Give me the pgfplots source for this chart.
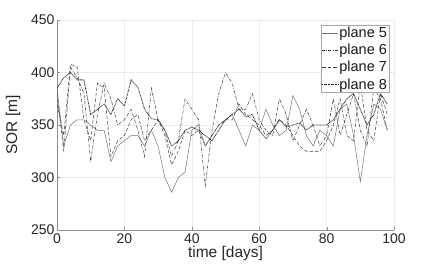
\documentclass[border=0pt]{standalone}
\usepackage{pgfplots}
\pgfplotsset{compat=1.18}
\usepackage{fontspec}
\setmainfont{Liberation Sans}
\begin{document}
\begin{tikzpicture}
\useasboundingbox (-57pt,-43pt) rectangle (379pt,230pt);
\begin{axis}[
  scale only axis, width=337pt, height=210pt,
  xmin=0, xmax=100, ymin=250, ymax=450,
  xtick={0,20,...,100}, ytick={250,300,...,450},
  grid=major, major grid style={draw=black!8, line width=0.5pt},
  axis x line*=bottom, axis y line*=left,
  axis line style={draw=black!45, line width=0.6pt},
  tick style={draw=black!45}, tick align=inside, major tick length=3pt,
  ticklabel style={font=\fontsize{14}{15}\selectfont, text=black!85},
  yticklabel style={xshift=1pt},
  /pgf/number format/assume math mode=true,
  xlabel={time [days]}, ylabel={SOR [m]},
  label style={font=\fontsize{15.5}{17}\selectfont, text=black!85},
  xlabel style={yshift=4pt}, ylabel style={yshift=4pt},
  legend style={at={(0.985,0.975)}, anchor=north east, font=\fontsize{14.5}{16}\selectfont,
    draw=black!35, fill=white, inner sep=1pt, row sep=3.5pt, text=black!90,
    nodes={inner sep=0.8pt}},
  legend cell align=left,
  legend image code/.code={\draw[#1] (0pt,0pt) -- (16pt,0pt);},
]
\addplot[black!55, line width=0.5pt] coordinates {
(0,385)(2,330)(4,350)(6,355)(8,355)(10,350)(12,345)(14,345)(16,315)(18,330)
(20,335)(22,340)(24,340)(26,330)(28,345)(30,330)(32,300)(34,286)(36,300)(38,305)
(40,345)(42,350)(44,330)(46,340)(48,350)(50,355)(52,360)(54,345)(56,330)(58,350)
(60,345)(62,365)(64,350)(66,340)(68,345)(70,378)(72,365)(74,340)(76,330)(78,345)
(80,340)(82,330)(84,365)(86,370)(88,340)(90,296)(92,340)(94,370)(96,365)(98,345)};
\addlegendentry{plane 5}
\addplot[black!80, line width=0.5pt, dash pattern=on 3pt off 1.3pt on 0.6pt off 1.3pt] coordinates {
(0,380)(2,325)(4,405)(6,395)(8,380)(10,315)(12,360)(14,390)(16,375)(18,350)
(20,355)(22,365)(24,345)(26,320)(28,385)(30,355)(32,345)(34,320)(36,335)(38,375)
(40,365)(42,355)(44,292)(46,345)(48,380)(50,400)(52,390)(54,365)(56,365)(58,380)
(60,355)(62,345)(64,340)(66,375)(68,360)(70,335)(72,350)(74,365)(76,350)(78,330)
(80,340)(82,375)(84,340)(86,360)(88,380)(90,345)(92,330)(94,385)(96,375)(98,345)};
\addlegendentry{plane 6}
\addplot[black!75, line width=0.5pt, dash pattern=on 3.5pt off 2pt] coordinates {
(0,370)(2,340)(4,408)(6,405)(8,355)(10,335)(12,390)(14,385)(16,320)(18,335)
(20,340)(22,355)(24,360)(26,335)(28,345)(30,355)(32,340)(34,312)(36,325)(38,345)
(40,340)(42,345)(44,330)(46,340)(48,350)(50,355)(52,355)(54,370)(56,360)(58,355)
(60,350)(62,340)(64,345)(66,355)(68,350)(70,340)(72,330)(74,325)(76,325)(78,325)
(80,335)(82,350)(84,375)(86,340)(88,335)(90,390)(92,345)(94,335)(96,380)(98,360)};
\addlegendentry{plane 7}
\addplot[black!90, line width=0.8pt, dash pattern=on 0.7pt off 0.7pt] coordinates {
(0,385)(2,395)(4,400)(6,393)(8,393)(10,360)(12,365)(14,370)(16,360)(18,375)
(20,368)(22,393)(24,386)(26,365)(28,356)(30,355)(32,345)(34,330)(36,335)(38,345)
(40,348)(42,345)(44,340)(46,335)(48,345)(50,355)(52,360)(54,365)(56,358)(58,360)
(60,345)(62,337)(64,345)(66,355)(68,348)(70,350)(72,352)(74,345)(76,350)(78,350)
(80,350)(82,355)(84,365)(86,375)(88,380)(90,365)(92,350)(94,360)(96,380)(98,370)};
\addlegendentry{plane 8}
\end{axis}
\end{tikzpicture}
\end{document}
